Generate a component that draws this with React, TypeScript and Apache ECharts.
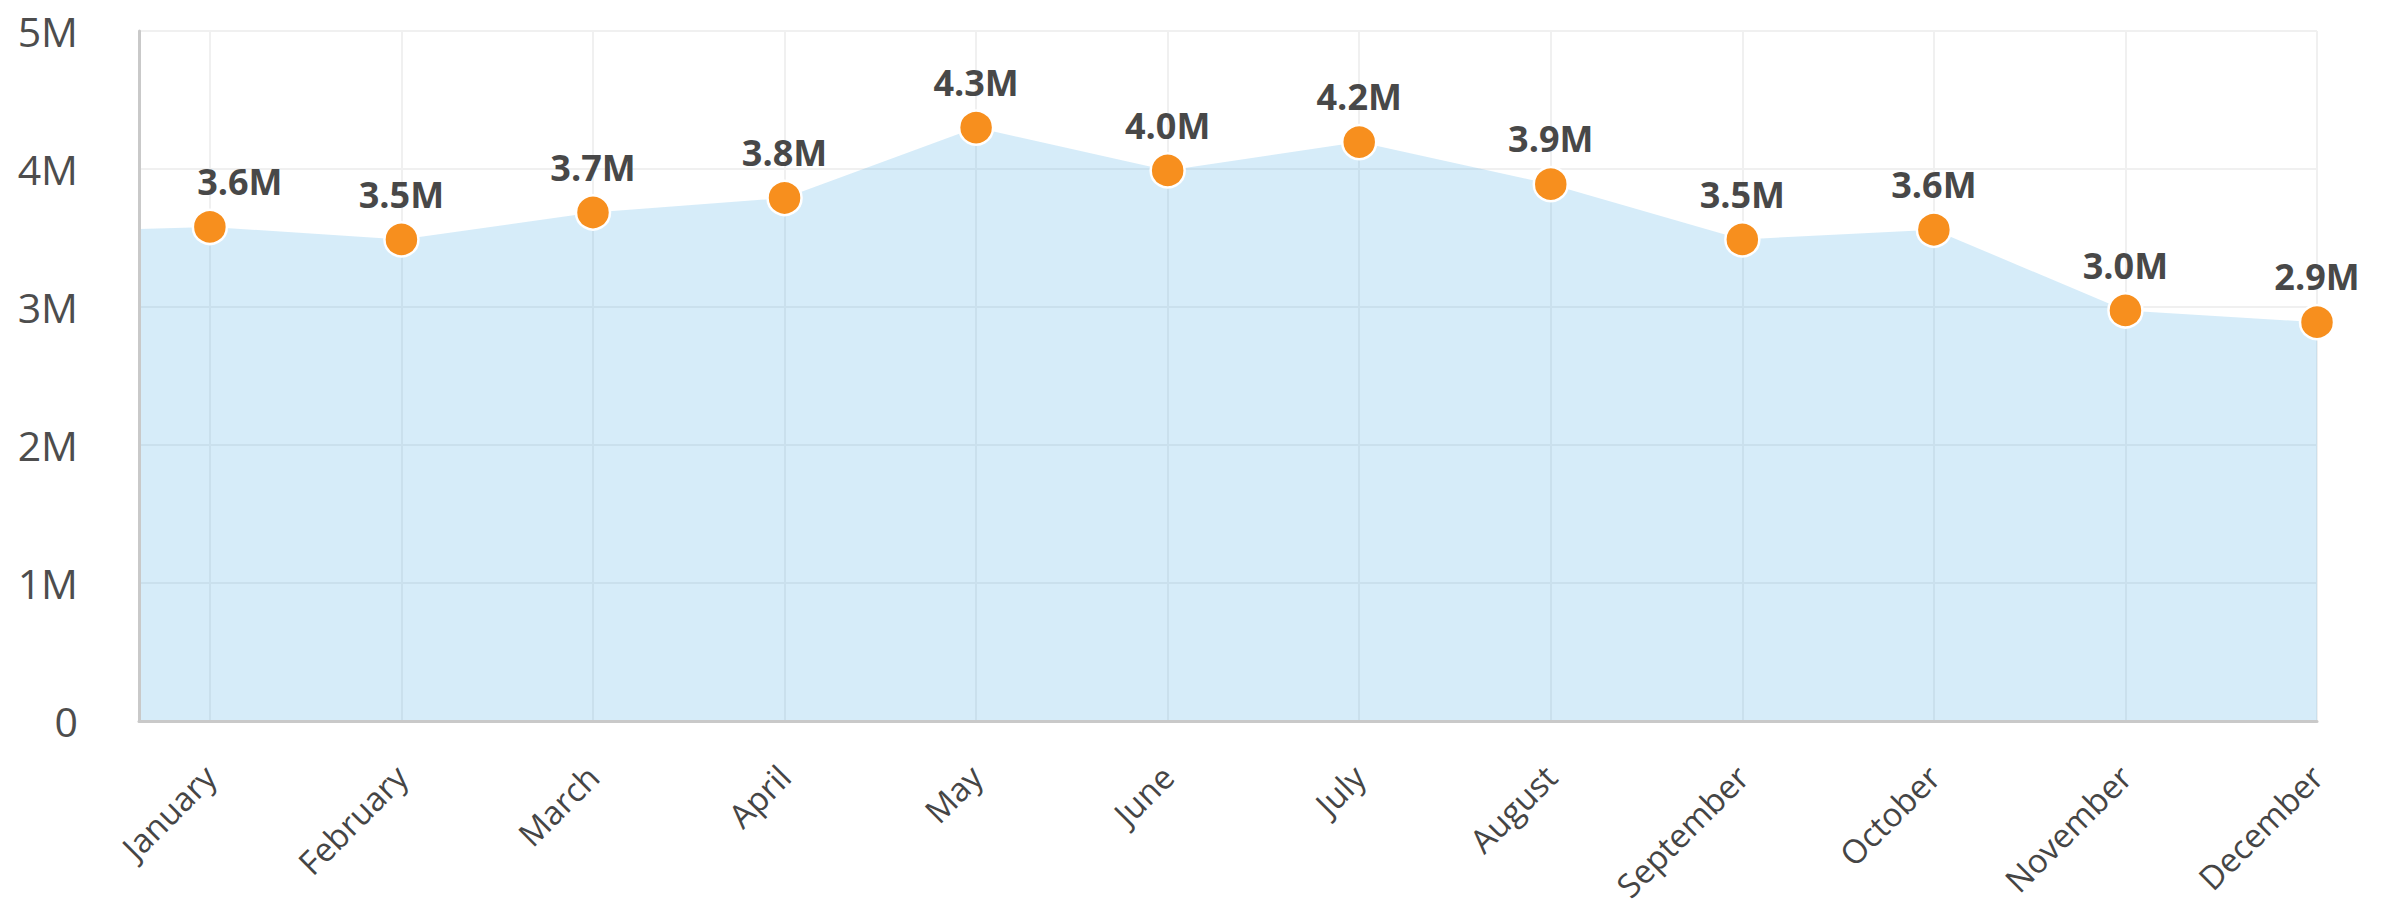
import React, { useEffect, useRef } from "react";
import * as echarts from "echarts";

const months = [
  "January", "February", "March", "April", "May", "June",
  "July", "August", "September", "October", "November", "December",
];
const values = [
  3580000, 3490000, 3685000, 3790000, 4300000, 3990000,
  4195000, 3890000, 3490000, 3560000, 2975000, 2890000,
];
// value of the filled area where it meets the left axis
const areaStartValue = 3565000;
const yTicks = [0, 1000000, 2000000, 3000000, 4000000, 5000000];
const xMin = -0.37;
const xMax = 11;
const yMax = 5000000;

const fmtM = (v: number) => (v === 0 ? "0" : `${v / 1000000}M`);
const fmtLabel = (v: number) => `${(v / 1000000).toFixed(1)}M`;

export default function App() {
  const ref = useRef<HTMLDivElement>(null);
  useEffect(() => {
    if (!ref.current) return;
    const chart = echarts.init(ref.current, undefined, { renderer: "svg" });
    const idx = months.map((_, i) => i);
    const areaData: [number, number][] = [[xMin, areaStartValue], ...values.map((v, i) => [i, v] as [number, number])];
    const markerData = values.map((v, i) => {
      const item: any = { value: [i, v] };
      if (i === 0) item.label = { offset: [30, 0] };
      return item;
    });
    const axisLineStyle = { color: "#c9c9c9", width: 3 };
    chart.setOption({
      animation: false,
      grid: { left: 139, right: 75, top: 31, bottom: 190, containLabel: false },
      xAxis: [
        {
          type: "value",
          min: xMin,
          max: xMax,
          axisLine: { show: false },
          axisTick: { show: false, customValues: idx },
          axisLabel: {
            customValues: idx,
            formatter: (v: number) => months[Math.round(v)] ?? "",
            rotate: 45,
            margin: 50,
            fontFamily: "Open Sans",
            fontSize: 33,
            color: "#454545",
          },
          splitLine: { show: true, lineStyle: { color: "#f0f0f0", width: 2 } },
        },
        {
          type: "value",
          min: xMin,
          max: xMax,
          position: "bottom",
          z: 10,
          axisLine: { show: true, onZero: false, lineStyle: axisLineStyle },
          axisTick: { show: false },
          axisLabel: { show: false },
          splitLine: { show: false },
        },
      ],
      yAxis: [
        {
          type: "value",
          min: 0,
          max: yMax,
          interval: 1000000,
          axisLine: { show: false },
          axisTick: { show: false },
          axisLabel: {
            formatter: (v: number) => (yTicks.includes(v) ? fmtM(v) : ""),
            margin: 61,
            fontFamily: "Open Sans",
            fontSize: 41,
            color: "#4d4d4d",
          },
          splitLine: { show: true, lineStyle: { color: "#f0f0f0", width: 2 } },
        },
        {
          type: "value",
          min: 0,
          max: yMax,
          position: "left",
          z: 10,
          axisLine: { show: true, onZero: false, lineStyle: axisLineStyle },
          axisTick: { show: false },
          axisLabel: { show: false },
          splitLine: { show: false },
        },
      ],
      series: [
        {
          type: "line",
          xAxisIndex: 0,
          yAxisIndex: 0,
          data: areaData,
          showSymbol: false,
          symbol: "none",
          lineStyle: { width: 0 },
          areaStyle: { color: "rgba(50,160,225,0.2)", opacity: 1 },
          z: 1,
          silent: true,
        },
        {
          type: "scatter",
          xAxisIndex: 0,
          yAxisIndex: 0,
          data: markerData,
          symbol: "circle",
          symbolSize: 34,
          clip: false,
          itemStyle: { color: "#f78f1e", borderColor: "#ffffff", borderWidth: 2.5, opacity: 1 },
          label: {
            show: true,
            position: "top",
            distance: 9,
            formatter: (p: any) => fmtLabel(p.value[1]),
            fontFamily: "Open Sans",
            fontWeight: "bold",
            fontSize: 36,
            color: "#484848",
          },
          z: 12,
        },
      ],
    });
    return () => chart.dispose();
  }, []);
  return (
    <div
      ref={ref}
      style={{ position: "fixed", left: 0, top: 0, width: 2392, height: 911, background: "#ffffff" }}
    />
  );
}
